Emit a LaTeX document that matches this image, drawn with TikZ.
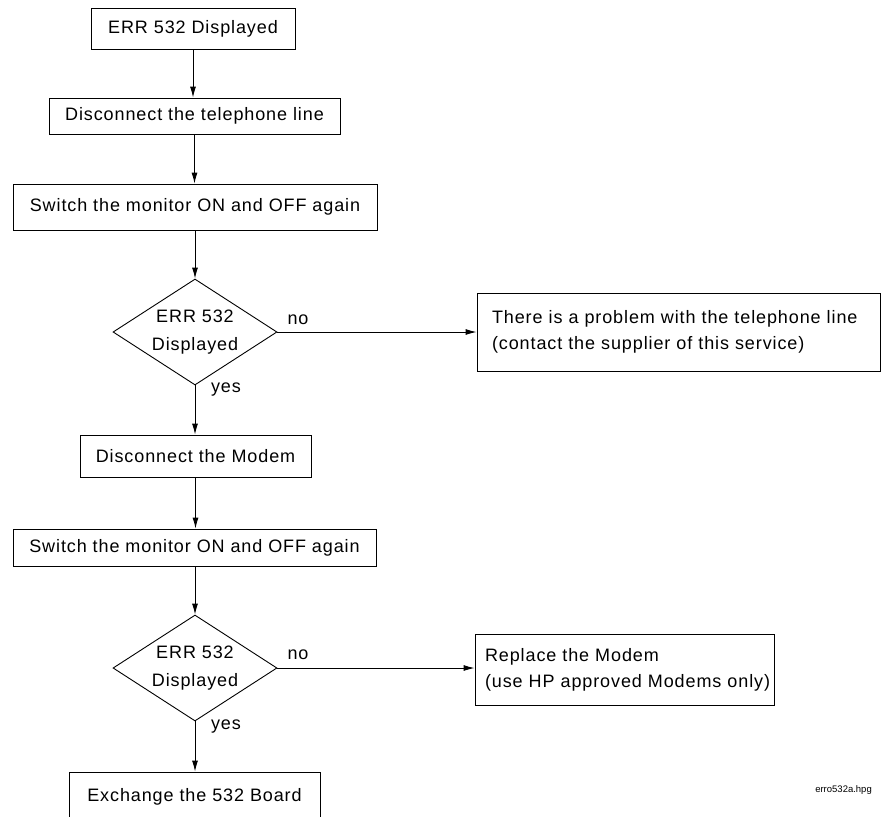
\documentclass[tikz,border=0pt]{standalone}
\usepackage{fontspec}
\setmainfont{Liberation Sans}[LetterSpace=5]
\newfontfamily\capfont{Liberation Sans}
\usetikzlibrary{shapes.geometric,arrows.meta}
\tikzset{
  every node/.style={font=\fontsize{18}{26}\selectfont, inner sep=0pt},
  boxnode/.style={draw, rectangle, line width=0.9pt},
  decnode/.style={draw, diamond, line width=0.9pt, minimum width=164pt, minimum height=106pt, aspect=1.55, align=center, font=\fontsize{18}{28}\selectfont},
  flow/.style={line width=0.9pt, -{Latex[length=11pt,width=6pt]}},
  lbl/.style={font=\fontsize{18}{22}\selectfont}
}
\begin{document}
\begin{tikzpicture}[x=1pt,y=-1pt]
\useasboundingbox (0,0) rectangle (882,816);
\node[boxnode, minimum width=204pt, minimum height=41pt] (b1) at (193,28.5) {ERR 532 Displayed};
\node[boxnode, minimum width=291pt, minimum height=36pt] (b2) at (194.5,116) {Disconnect the telephone line};
\node[boxnode, minimum width=364pt, minimum height=46pt] (b3) at (195,207) {Switch the monitor ON and OFF again};
\node[decnode] (d1) at (195,332) {ERR 532\\Displayed};
\node[boxnode, minimum height=78pt, text width=403pt, align=left] (b4) at (678.5,332) {\hspace*{15pt}There is a problem with the telephone line\\\hspace*{15pt}(contact the supplier of this service)};
\node[boxnode, minimum width=231pt, minimum height=42pt] (b5) at (195.5,456) {Disconnect the Modem};
\node[boxnode, minimum width=363pt, minimum height=37pt] (b6) at (194.5,547.5) {Switch the monitor ON and OFF again};
\node[decnode] (d2) at (195,668) {ERR 532\\Displayed};
\node[boxnode, minimum height=71pt, text width=299pt, align=left] (b8) at (624.5,669.5) {\hspace*{10pt}Replace the Modem\\\hspace*{10pt}(use HP approved Modems only)};
\node[boxnode, minimum width=251pt, minimum height=50pt] (b7) at (194.5,797) {Exchange the 532 Board};

\draw[flow] (b1.south) -- (b1.south |- b2.north);
\draw[flow] (b2.south) -- (b2.south |- b3.north);
\draw[flow] (b3.south -| d1.north) -- (d1.north);
\draw[flow] (d1.east) -- (d1.east -| b4.west);
\draw[flow] (d1.south) -- (d1.south |- b5.north);
\draw[flow] (b5.south) -- (b5.south |- b6.north);
\draw[flow] (b6.south -| d2.north) -- (d2.north);
\draw[flow] (d2.east) -- (d2.east -| b8.west);
\draw[flow] (d2.south) -- (d2.south |- b7.north);

\node[lbl] (n1) at (298,320) {no};
\node[lbl] (y1) at (226,390) {yes};
\node[lbl] (n2) at (298,655) {no};
\node[lbl] (y2) at (226,727) {yes};
\node[font=\capfont\fontsize{9.5}{11}\selectfont, anchor=east] (cap) at (872,790) {erro532a.hpg};
\end{tikzpicture}
\end{document}
